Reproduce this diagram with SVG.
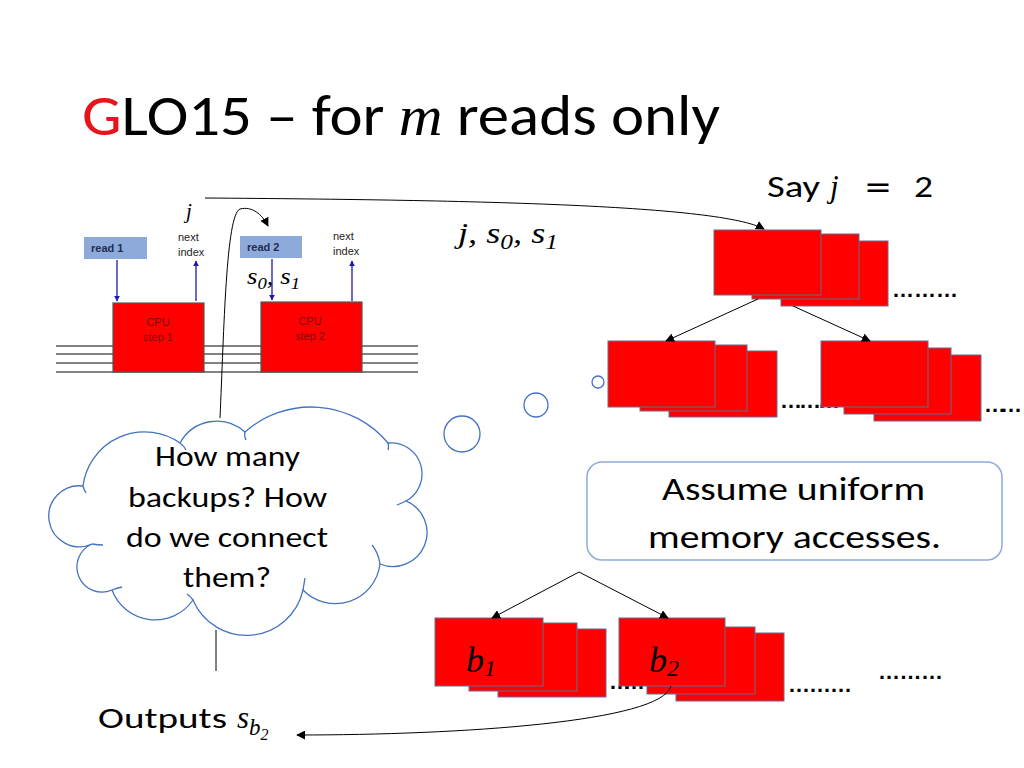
<svg xmlns="http://www.w3.org/2000/svg" width="1024" height="768" viewBox="0 0 1024 768">
<style>
.body{font-family:Carlito,Lato,"Liberation Sans",sans-serif;fill:#000}
.math{font-family:"Liberation Serif","DejaVu Serif",serif;font-style:italic;fill:#000}
.arial{font-family:"Liberation Sans",Arial,sans-serif}
.red{fill:#ff0000;stroke:#6b6b8c;stroke-width:1}
.cpu{fill:#ff0000;stroke:#555;stroke-width:1.2}
.rd{fill:#8eaadb}
.bus{stroke:#595959;stroke-width:1.4}
.conn{fill:none;stroke:#000;stroke-width:1}
.blue{stroke:#1a1ab0;stroke-width:1.3;fill:none}
.bub{fill:#fff;stroke:#4472c4;stroke-width:1.3}
.dots{font-family:"Liberation Sans",Arial,sans-serif;font-size:22px;font-weight:bold;fill:#000}
</style>
<defs>
<marker id="ah" viewBox="0 0 10 10" refX="9" refY="5" markerWidth="9" markerHeight="9" markerUnits="userSpaceOnUse" orient="auto"><path d="M0,0 L10,5 L0,10 z" fill="#000"/></marker>
<marker id="ab" viewBox="0 0 10 10" refX="9" refY="5" markerWidth="6" markerHeight="6" markerUnits="userSpaceOnUse" orient="auto"><path d="M0,0 L10,5 L0,10 z" fill="#1a1ab0"/></marker>
</defs>
<rect width="1024" height="768" fill="#fff"/>

<g id="title">
<text x="82" y="135" class="body" font-size="58" font-weight="300" textLength="638" lengthAdjust="spacingAndGlyphs"><tspan fill="#e8141b">G</tspan>LO15 – for <tspan class="math" font-size="56">m</tspan> reads only</text>
</g>

<g id="say-j">
<text x="767" y="197" class="body" font-size="31" textLength="53" lengthAdjust="spacingAndGlyphs">Say</text>
<text x="830" y="197" class="math" font-size="31">j</text>
<text x="864" y="197" font-family="'DejaVu Sans',sans-serif" font-size="30" textLength="28" lengthAdjust="spacingAndGlyphs">=</text>
<text x="914" y="197" class="body" font-size="31" textLength="19" lengthAdjust="spacingAndGlyphs">2</text>
</g>

<g id="label-j"><text x="186" y="218" class="math" font-size="21">j</text></g>
<g id="label-js0s1"><text x="458" y="243" class="math" font-size="30" textLength="100" lengthAdjust="spacingAndGlyphs">j, s<tspan font-size="21" dy="6">0</tspan><tspan dy="-6">, s</tspan><tspan font-size="21" dy="6">1</tspan></text></g>

<g id="bus">
<line x1="56" y1="346" x2="418" y2="346" class="bus"/>
<line x1="56" y1="354" x2="418" y2="354" class="bus"/>
<line x1="56" y1="363" x2="418" y2="363" class="bus"/>
<line x1="56" y1="372" x2="418" y2="372" class="bus"/>
</g>

<g id="read1">
<rect x="84" y="237" width="63" height="22" class="rd"/>
<text x="91" y="252" class="arial" font-size="11" font-weight="bold" fill="#1f2d50">read 1</text>
</g>
<g id="next1"><text class="arial" font-size="11" fill="#222"><tspan x="178" y="241">next</tspan><tspan x="178" y="256">index</tspan></text></g>
<g id="cpu1">
<rect x="113" y="303" width="91" height="69" class="cpu"/>
<text class="arial" font-size="11" fill="#7a0a0a" text-anchor="middle"><tspan x="158" y="326">CPU</tspan><tspan x="158" y="341">step 1</tspan></text>
</g>
<g id="read2">
<rect x="240" y="236" width="62" height="22" class="rd"/>
<text x="247" y="251" class="arial" font-size="11" font-weight="bold" fill="#1f2d50">read 2</text>
</g>
<g id="next2"><text class="arial" font-size="11" fill="#222"><tspan x="333" y="240">next</tspan><tspan x="333" y="255">index</tspan></text></g>
<g id="cpu2">
<rect x="261" y="302" width="101" height="70" class="cpu"/>
<text class="arial" font-size="11" fill="#7a0a0a" text-anchor="middle"><tspan x="310" y="325">CPU</tspan><tspan x="310" y="340">step 2</tspan></text>
</g>
<g id="label-s0s1"><text x="247" y="284" class="math" font-size="23" textLength="53" lengthAdjust="spacingAndGlyphs">s<tspan font-size="16" dy="5">0</tspan><tspan dy="-5">, s</tspan><tspan font-size="16" dy="5">1</tspan></text></g>

<g id="bubbles">
<circle cx="462" cy="434" r="18" class="bub"/>
<circle cx="536" cy="405" r="12" class="bub"/>
<circle cx="598" cy="382" r="6" class="bub"/>
</g>

<g id="cloud">
<path class="bub" d="M83,486 A62,62 0 0 1 180,443 A42,42 0 0 1 245,432 A100,100 0 0 1 388,443 A31,31 0 0 1 406,501 A34,34 0 0 1 380,564 A45,45 0 0 1 303,590 A58,58 0 0 1 193,600 A46,46 0 0 1 112,590 A25,25 0 0 1 92,544 A30.5,30.5 0 1 1 83,486 Z"/>
<path d="M180,443 Q184,446 186,450 M245,432 Q244,436 246,440 M388,443 Q389,447 388,450 M406,501 Q402,503 397,505 M380,564 Q378,552 372,545 M303,590 Q304,584 305,578 M193,600 Q190,596 187,594 M112,590 Q117,588 122,587 M92,544 Q98,545 103,545 M83,486 Q84,490 86,493" fill="none" stroke="#4472c4" stroke-width="1.3"/>
<text x="155" y="466" class="body" font-size="28" textLength="145" lengthAdjust="spacingAndGlyphs">How many</text>
<text x="128" y="507" class="body" font-size="28" textLength="199" lengthAdjust="spacingAndGlyphs">backups? How</text>
<text x="126" y="547" class="body" font-size="28" textLength="202" lengthAdjust="spacingAndGlyphs">do we connect</text>
<text x="183" y="587" class="body" font-size="28" textLength="88" lengthAdjust="spacingAndGlyphs">them?</text>
</g>

<g id="top-group">
<rect x="781" y="241" width="107" height="65" class="red"/>
<rect x="752" y="234" width="107" height="65" class="red"/>
<rect x="714" y="230" width="107" height="65" class="red"/>
<text x="892" y="297" class="dots" textLength="66" lengthAdjust="spacing">………</text>
</g>

<g id="left-group">
<rect x="669" y="351" width="108" height="66" class="red"/>
<rect x="640" y="345" width="107" height="66" class="red"/>
<rect x="608" y="341" width="107" height="66" class="red"/>
</g>
<text x="780" y="408" class="dots" textLength="60" lengthAdjust="spacing">………</text>
<g id="right-group">
<rect x="874" y="355" width="107" height="66" class="red"/>
<rect x="844" y="348" width="107" height="66" class="red"/>
<rect x="821" y="341" width="107" height="66" class="red"/>
</g>
<text x="984" y="412" class="dots" textLength="38" lengthAdjust="spacing">……</text>

<g id="callout">
<rect x="587" y="462" width="415" height="98" rx="15" fill="#fff" stroke="#8faadc" stroke-width="1.5"/>
<text x="662" y="500" class="body" font-size="33" textLength="263" lengthAdjust="spacingAndGlyphs">Assume uniform</text>
<text x="648" y="548" class="body" font-size="33" textLength="293" lengthAdjust="spacingAndGlyphs">memory accesses.</text>
</g>

<g id="b1-group">
<rect x="498" y="629" width="108" height="68" class="red"/>
<rect x="469" y="623" width="108" height="68" class="red"/>
<rect x="435" y="618" width="108" height="68" class="red"/>
<text x="466" y="672" class="math" font-size="36">b<tspan font-size="24" dy="4">1</tspan></text>
</g>
<text x="609" y="689" class="dots" textLength="36" lengthAdjust="spacing">……</text>
<g id="b2-group">
<rect x="676" y="633" width="108" height="68" class="red"/>
<rect x="647" y="627" width="108" height="67" class="red"/>
<rect x="619" y="618" width="106" height="68" class="red"/>
<text x="649" y="672" class="math" font-size="36">b<tspan font-size="24" dy="4">2</tspan></text>
</g>
<text x="788" y="692" class="dots" textLength="64" lengthAdjust="spacing">………</text>
<text x="878" y="679" class="dots" textLength="65" lengthAdjust="spacing">………</text>

<g id="outputs">
<text x="98" y="728" class="body" font-size="29" textLength="129" lengthAdjust="spacingAndGlyphs">Outputs</text>
<text x="237" y="728" class="math" font-size="31">s<tspan font-size="23" dy="7">b</tspan><tspan font-size="16" dy="5">2</tspan></text>
</g>

<g id="connectors">
<line x1="117" y1="260" x2="117" y2="301" class="blue" marker-end="url(#ab)"/>
<line x1="196" y1="301" x2="196" y2="261" class="blue" marker-end="url(#ab)"/>
<line x1="272" y1="259" x2="272" y2="300" class="blue" marker-end="url(#ab)"/>
<line x1="352" y1="301" x2="352" y2="261" class="blue" marker-end="url(#ab)"/>
<path class="conn" d="M205,198 C480,200 720,205 764,229" marker-end="url(#ah)"/>
<path class="conn" d="M220,418 C224,330 226,214 240,209 C252,206 262,214 268,226" marker-end="url(#ah)"/>
<line x1="758" y1="299" x2="666" y2="341" class="conn" marker-end="url(#ah)"/>
<line x1="793" y1="306" x2="870" y2="341" class="conn" marker-end="url(#ah)"/>
<line x1="579" y1="572" x2="492" y2="618" class="conn" marker-end="url(#ah)"/>
<line x1="579" y1="572" x2="668" y2="618" class="conn" marker-end="url(#ah)"/>
<line x1="216" y1="630" x2="216" y2="671" class="conn" stroke="#444"/>
<path class="conn" d="M671,686 C662,722 460,735 297,735" marker-end="url(#ah)"/>
</g>
</svg>
